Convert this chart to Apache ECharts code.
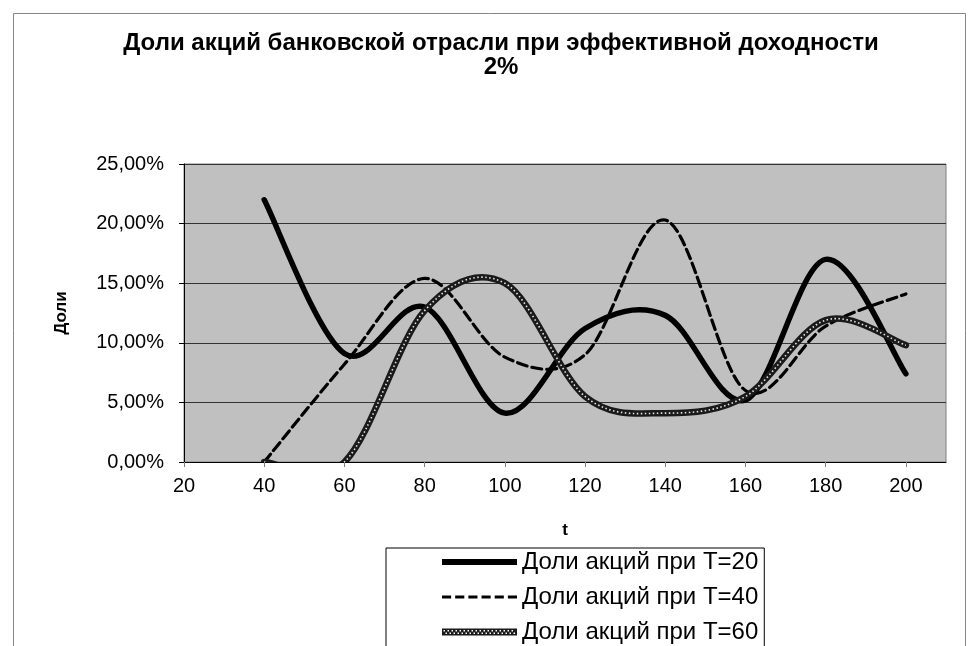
<!DOCTYPE html>
<html>
<head>
<meta charset="utf-8">
<script src="https://cdn.jsdelivr.net/npm/echarts@6/dist/echarts.min.js"></script>
<style>
html,body{margin:0;padding:0;background:#fff;}
#chart{width:975px;height:646px;}
</style>
</head>
<body>
<div id="chart"></div>
<script>
// ---- data ----
const tValues = [40, 60, 80, 100, 120, 140, 160, 180, 200];
const shareT20 = [22.0, 9.1, 13.0, 4.1, 11.2, 12.3, 5.2, 17.0, 7.4];
const shareT40 = [0.0, 8.2, 15.4, 8.8, 9.0, 20.3, 6.0, 11.4, 14.1];
const shareT60 = [0.0, 0.0, 12.7, 15.0, 5.5, 4.1, 5.5, 11.9, 9.8];
const seriesNames = ['Доли акций при T=20', 'Доли акций при T=40', 'Доли акций при T=60'];
const titleLines = ['Доли акций банковской отрасли при эффективной доходности', '2%'];
const xAxisName = 't';
const yAxisName = 'Доли';

const FONT = "'Liberation Sans', Arial, sans-serif";

// Excel-like smoothed line (Catmull-Rom through the points, via the axis scales)
function smoothPath(api, xs, ys) {
  const pts = xs.map((x, i) => api.coord([x, ys[i]]));
  const n = pts.length;
  let d = 'M' + pts[0][0] + ' ' + pts[0][1];
  for (let i = 0; i < n - 1; i++) {
    const p0 = pts[Math.max(i - 1, 0)], p1 = pts[i], p2 = pts[i + 1], p3 = pts[Math.min(i + 2, n - 1)];
    const c1x = p1[0] + (p2[0] - p0[0]) / 6, c1y = p1[1] + (p2[1] - p0[1]) / 6;
    const c2x = p2[0] - (p3[0] - p1[0]) / 6, c2y = p2[1] - (p3[1] - p1[1]) / 6;
    d += ' C' + c1x + ' ' + c1y + ' ' + c2x + ' ' + c2y + ' ' + p2[0] + ' ' + p2[1];
  }
  return d;
}

function makeRender(ys, layers) {
  return function (params, api) {
    if (params.dataIndex !== 0) return null;
    const d = smoothPath(api, tValues, ys);
    const cs = params.coordSys;
    return {
      type: 'group',
      clipPath: { type: 'rect', shape: { x: cs.x, y: cs.y, width: cs.width, height: cs.height } },
      children: layers.map(st => ({
        type: 'path',
        shape: { pathData: d },
        style: Object.assign({ fill: 'none', lineJoin: 'round' }, st)
      }))
    };
  };
}

function pairs(ys) { return tValues.map((t, i) => [t, ys[i]]); }

// legend icons (shape of line styles)
const iconSolid = 'path://M0,0H75V6H0Z';
let dashP = '';
for (let x = 0; x + 9 <= 75; x += 13) dashP += 'M' + x + ',0H' + (x + 9) + 'V3H' + x + 'Z ';
const iconDash = 'path://' + dashP.trim();
let texP = 'M0,0H75V7H0Z';
for (let x = 1.5; x + 1.5 <= 74; x += 4) texP += ' M' + x + ',1.5V3H' + (x + 1.5) + 'V1.5Z';
for (let x = 3.5; x + 1.5 <= 74; x += 4) texP += ' M' + x + ',4V5.5H' + (x + 1.5) + 'V4Z';
const iconTex = 'path://' + texP;

const chart = echarts.init(document.getElementById('chart'));
chart.setOption({
  animation: false,
  backgroundColor: '#fff',
  graphic: [
    { type: 'rect', shape: { x: 13.5, y: 13.5, width: 952, height: 700 }, style: { fill: 'none', stroke: '#868686', lineWidth: 1 }, z: -1 },
    { type: 'text', x: 501, y: 31, style: { text: titleLines.join('\n'), font: 'bold 24px ' + FONT, lineHeight: 24, textAlign: 'center', textVerticalAlign: 'top', fill: '#000' } }
  ],
  grid: {
    left: 184, top: 164, right: 29, bottom: 184,
    show: true, backgroundColor: '#c0c0c0', borderColor: '#808080', borderWidth: 1
  },
  legend: {
    orient: 'vertical',
    left: 386, top: 548, height: 300,
    padding: [2, 6, 30, 56],
    itemWidth: 75, itemHeight: 7, itemGap: 11,
    backgroundColor: '#fff', borderColor: '#000', borderWidth: 1, borderRadius: 0,
    textStyle: { fontFamily: FONT, fontSize: 24, color: '#000' },
    data: [
      { name: seriesNames[0], icon: iconSolid, itemStyle: { color: '#000' } },
      { name: seriesNames[1], icon: iconDash, itemStyle: { color: '#000' } },
      { name: seriesNames[2], icon: iconTex, itemStyle: { color: '#1a1a1a' } }
    ]
  },
  xAxis: {
    type: 'value', min: 20, max: 210, interval: 20,
    name: xAxisName, nameLocation: 'middle', nameGap: 60,
    nameTextStyle: { fontFamily: FONT, fontSize: 17, fontWeight: 'bold', color: '#000' },
    axisLine: { show: true, onZero: false, lineStyle: { color: '#000', width: 1 } },
    axisTick: { show: true, length: 5, lineStyle: { color: '#808080' } },
    axisLabel: { margin: 14, fontFamily: FONT, fontSize: 20, color: '#000', showMaxLabel: false },
    splitLine: { show: false }
  },
  yAxis: {
    type: 'value', min: 0, max: 25, interval: 5,
    name: yAxisName, nameLocation: 'middle', nameGap: 114, nameRotate: 90,
    nameTextStyle: { fontFamily: FONT, fontSize: 17, fontWeight: 'bold', color: '#000' },
    axisLine: { show: true, lineStyle: { color: '#000', width: 1 } },
    axisTick: { show: true, length: 5, lineStyle: { color: '#000' } },
    axisLabel: { margin: 20, fontFamily: FONT, fontSize: 20, color: '#000',
      formatter: v => v.toFixed(2).replace('.', ',') + '%' },
    splitLine: { show: true, lineStyle: { color: '#333', width: 1 } }
  },
  series: [
    { name: seriesNames[0], type: 'custom', clip: true, itemStyle: { color: '#000' },
      encode: { x: 0, y: 1 }, data: pairs(shareT20),
      renderItem: makeRender(shareT20, [{ stroke: '#000', lineWidth: 5.5, lineCap: 'round' }]) },
    { name: seriesNames[1], type: 'custom', clip: true, itemStyle: { color: '#000' },
      encode: { x: 0, y: 1 }, data: pairs(shareT40),
      renderItem: makeRender(shareT40, [{ stroke: '#000', lineWidth: 3.2, lineDash: [10, 5], lineCap: 'round' }]) },
    { name: seriesNames[2], type: 'custom', clip: true, itemStyle: { color: '#1a1a1a' },
      encode: { x: 0, y: 1 }, data: pairs(shareT60),
      renderItem: makeRender(shareT60, [
        { stroke: '#1a1a1a', lineWidth: 6.5, lineCap: 'round' },
        { stroke: '#e6e6e6', lineWidth: 1.6, lineDash: [1.5, 2.5] }
      ]) }
  ]
});
</script>
</body>
</html>
